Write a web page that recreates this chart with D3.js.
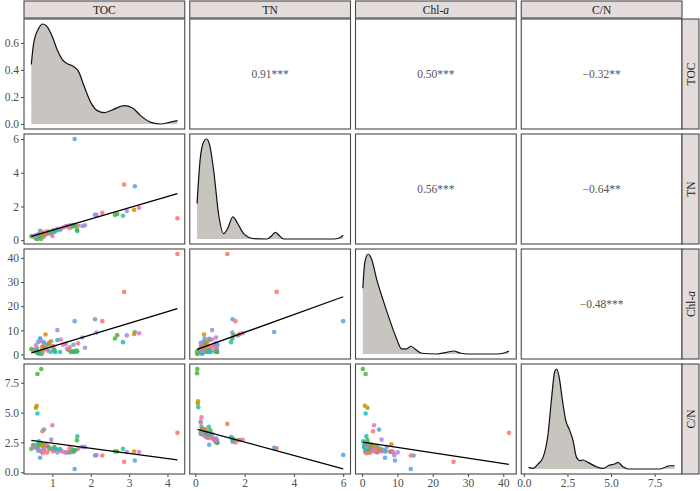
<!DOCTYPE html>
<html>
<head>
<meta charset="utf-8">
<script src="https://cdn.jsdelivr.net/npm/d3@7"></script>
<style>
  body { margin: 0; background: #fff; }
  text { font-family: "Liberation Serif", "DejaVu Serif", serif; }
</style>
</head>
<body>
<div id="chart"></div>
<script>
// variable names (strip labels)
const varNames = ['TOC', 'TN', 'Chl-a', 'C/N'];

// samples, one entry per site
const toc = [4.26, 1.58, 2.87, 3.15, 2.11, 2.15, 2.30, 2.63, 2.69, 2.84,
  2.94, 3.13, 3.26, 0.71, 0.61, 0.59, 0.57, 0.61, 1.00, 0.78,
  0.74, 0.97, 0.68, 1.65, 1.64, 1.67, 1.78, 1.28, 1.35, 1.42,
  1.48, 1.52, 1.60, 1.45, 1.38, 1.55, 1.57, 1.85, 1.13, 1.22,
  1.05, 1.20, 1.13, 0.45, 0.50, 0.55, 0.60, 0.62, 0.63, 0.65,
  0.66, 0.68, 0.70, 0.72, 0.73, 0.75, 0.77, 0.79, 0.80, 0.82,
  0.84, 0.86, 0.88, 0.90, 0.92, 0.95, 1.00, 1.02, 1.05, 1.08,
  0.57, 0.53, 0.74];
const tn = [1.30, 6.00, 3.30, 3.20, 1.51, 1.50, 1.63, 1.50, 1.55, 1.45,
  1.73, 1.80, 1.92, 0.08, 0.07, 0.11, 0.10, 0.12, 0.25, 0.22,
  0.22, 0.36, 0.56, 0.55, 0.61, 0.85, 0.84, 0.75, 0.82, 0.86,
  0.88, 0.80, 0.86, 0.72, 0.82, 0.90, 0.88, 0.88, 0.60, 0.68,
  0.56, 0.62, 0.68, 0.23, 0.22, 0.26, 0.26, 0.30, 0.35, 0.25,
  0.28, 0.38, 0.40, 0.30, 0.32, 0.47, 0.40, 0.42, 0.35, 0.35,
  0.38, 0.52, 0.40, 0.43, 0.48, 0.48, 0.52, 0.58, 0.50, 0.55,
  0.28, 0.25, 0.34];
const chl = [41.6, 13.8, 25.9, 9.3, 14.6, 9.1, 13.8, 6.6, 8.0, 5.1,
  7.9, 8.5, 8.8, 0.2, 1.0, 0.8, 1.5, 1.0, 3.4, 4.8,
  3.1, 5.5, 6.5, 1.2, 1.5, 4.6, 7.0, 4.0, 4.4, 1.9,
  1.0, 1.3, 1.5, 3.0, 2.4, 4.0, 1.0, 2.8, 6.0, 6.2,
  2.0, 1.0, 10.1, 2.2, 1.9, 1.8, 2.5, 0.6, 5.2, 0.3,
  0.8, 6.6, 5.6, 1.5, 0.6, 1.2, 5.0, 3.6, 2.6, 8.3,
  4.0, 2.3, 1.6, 4.2, 5.0, 1.1, 3.0, 3.5, 1.3, 1.0,
  3.8, 1.4, 3.2];
const cn = [3.30, 0.27, 0.87, 0.98, 1.40, 1.43, 1.40, 1.75, 1.74, 1.96,
  1.70, 1.74, 1.70, 8.65, 8.23, 5.56, 5.40, 4.92, 3.93, 3.57,
  3.43, 2.73, 1.21, 3.00, 2.67, 1.97, 2.12, 1.71, 1.65, 1.65,
  1.68, 1.90, 1.86, 2.01, 1.68, 1.72, 1.78, 2.10, 1.88, 1.79,
  1.88, 1.94, 1.66, 1.96, 2.27, 2.12, 2.31, 2.07, 1.80, 2.60,
  2.36, 1.79, 1.75, 2.40, 2.28, 1.60, 1.93, 1.88, 2.29, 2.35,
  2.21, 1.65, 2.20, 2.09, 1.92, 1.98, 1.92, 1.76, 2.10, 1.96,
  2.04, 2.12, 2.18];
// C/N as it appears in the TN vs C/N panel
const cnTn = [4.05, 1.45, 2.00, 2.05, 2.55, 2.75, 2.50, 2.85, 2.75, 2.95,
  2.70, 2.70, 2.72, 8.65, 8.30, 5.95, 5.75, 5.45, 4.60, 4.25,
  4.15, 3.60, 2.30, 3.80, 3.50, 2.70, 2.85, 2.75, 2.60, 2.55,
  2.50, 2.65, 2.60, 2.80, 2.55, 2.45, 2.50, 2.65, 3.00, 2.90,
  3.10, 3.00, 3.20, 3.20, 3.30, 3.20, 3.50, 3.40, 3.10, 3.80,
  3.60, 3.20, 3.00, 3.60, 3.40, 2.90, 3.20, 3.10, 3.50, 3.50,
  3.40, 2.90, 3.60, 3.40, 3.10, 3.20, 3.00, 2.90, 3.30, 3.20,
  3.50, 3.30, 3.60];
// site group (colour index)
const group = [0, 5, 0, 5, 5, 6, 0, 3, 3, 4,
  6, 1, 7, 3, 3, 1, 2, 4, 7, 5,
  0, 6, 5, 4, 3, 0, 6, 7, 6, 3,
  4, 3, 4, 0, 7, 5, 3, 6, 4, 7,
  3, 4, 6, 3, 3, 2, 4, 3, 5, 4,
  3, 5, 7, 3, 4, 0, 5, 7, 3, 1,
  6, 0, 7, 3, 1, 4, 6, 0, 3, 4,
  7, 6, 1];

// diagonal density curves
const tocDensX = [0.45, 0.51, 0.64, 0.75, 0.86, 1.0, 1.13, 1.26, 1.39, 1.54, 1.69, 1.82, 2.0, 2.17, 2.35, 2.56, 2.87, 3.09, 3.3, 3.57, 3.83, 4.05, 4.26];
const tocDensY = [0.44, 0.595, 0.706, 0.74, 0.72, 0.645, 0.545, 0.476, 0.446, 0.428, 0.384, 0.285, 0.16, 0.099, 0.084, 0.104, 0.136, 0.119, 0.062, 0.012, 0.0, 0.012, 0.025];
const tnDensX = [0.07, 0.2, 0.34, 0.45, 0.58, 0.75, 0.95, 1.15, 1.31, 1.52, 1.72, 1.96, 2.37, 2.91, 3.12, 3.25, 3.39, 3.59, 4.27, 5.62, 5.83, 6.0];
const tnDensY = [2.11, 4.78, 5.77, 5.93, 5.58, 3.99, 1.41, 0.32, 0.62, 1.31, 0.92, 0.32, 0.02, 0, 0.22, 0.40, 0.22, 0, 0, 0, 0.06, 0.22];
const chlDensX = [0.2, 0.77, 1.7, 2.67, 4.1, 6.0, 7.9, 9.8, 11.2, 12.6, 13.8, 15.0, 16.9, 21.2, 24.0, 25.9, 27.8, 29.7, 38.3, 40.2, 41.6];
const chlDensY = [27.2, 37.9, 41.4, 39.3, 31.1, 22.1, 13.8, 6.2, 2.1, 2.1, 3.2, 2.1, 0.3, 0, 0.7, 1.25, 0.4, 0, 0, 0.4, 1.25];
const cnDensX = [0.27, 0.53, 0.82, 1.1, 1.39, 1.58, 1.77, 1.87, 2.02, 2.21, 2.4, 2.63, 2.82, 3.02, 3.2, 3.39, 3.68, 4.16, 4.54, 4.92, 5.21, 5.4, 5.68, 5.97, 7.78, 8.17, 8.36, 8.64];
const cnDensY = [0.13, 0.05, 0.42, 0.97, 2.94, 5.75, 8.13, 8.34, 7.71, 5.75, 4.07, 3.22, 2.38, 0.97, 0.70, 0.75, 0.55, 0.19, 0.05, 0.33, 0.42, 0.55, 0.19, 0, 0, 0.19, 0.27, 0.27];

// fitted lines (ends), [x, y]
const fitTocTn = [[0.45, 0.22], [4.26, 2.76]];
const fitTocChl = [[0.45, 0.66], [4.26, 19.0]];
const fitTnChl = [[0.07, 2.07], [6.0, 23.9]];
const fitTocCn = [[0.45, 2.67], [4.26, 1.04]];
const fitTnCn = [[0.09, 3.60], [6.0, 0.28]];
const fitChlCn = [[0.2, 2.53], [41.6, 0.65]];

// upper-triangle correlations
const corrRow = [0, 0, 0, 1, 1, 2];
const corrCol = [1, 2, 3, 2, 3, 3];
const corrLabel = ['0.91***', '0.50***', '\u22120.32**', '0.56***', '\u22120.64**', '\u22120.48***'];

// tick values
const varTicks = [[1, 2, 3, 4], [0, 2, 4, 6], [0, 10, 20, 30, 40], [0, 2.5, 5, 7.5]];
const densTicks = [0, 0.2, 0.4, 0.6];

// layout
const width = 700, height = 491;
const margin = { top: 19, bottom: 474, left: 24, right: 682 };
const gap = 5, stripSize = 17;
const pw = (margin.right - margin.left - 3 * gap) / 4, ph = (margin.bottom - margin.top - 3 * gap) / 4;
const px = i => margin.left + i * (pw + gap);
const py = i => margin.top + i * (ph + gap);
const colors = ['#F8766D', '#DB8E00', '#A3A500', '#4FB23A', '#27BDB6', '#5BA3E0', '#A58AD9', '#EE6FC0'];
const fmts = [d3.format('d'), d3.format('d'), d3.format('d'), d3.format('.1f')];

const svg = d3.select('#chart').append('svg').attr('width', width).attr('height', height);

const vals = [toc, tn, chl, cn];
const padDomain = v => {
  const [a, b] = d3.extent(v);
  const p = (b - a) * 0.05;
  return [a - p, b + p];
};
const xs = vals.map((v, i) => d3.scaleLinear().domain(padDomain(v)).range([px(i), px(i) + pw]));
const ys = vals.map((v, i) => d3.scaleLinear().domain(padDomain(v)).range([py(i) + ph, py(i)]));

const dens = [[tocDensX, tocDensY], [tnDensX, tnDensY], [chlDensX, chlDensY], [cnDensX, cnDensY]];
const densY = dens.map((d, i) => {
  const m = d3.max(d[1]);
  return d3.scaleLinear().domain([-0.05 * m, 1.05 * m]).range([py(i) + ph, py(i)]);
});

const fits = { '1-0': fitTocTn, '2-0': fitTocChl, '2-1': fitTnChl, '3-0': fitTocCn, '3-1': fitTnCn, '3-2': fitChlCn };

// panels
for (let r = 0; r < 4; r++) {
  for (let c = 0; c < 4; c++) {
    const g = svg.append('g');
    if (r === c) {
      const [dx, dy] = dens[c];
      const pts = dx.map((x, k) => [x, dy[k]]);
      const area = d3.area().x(d => xs[c](d[0])).y0(densY[c](0)).y1(d => densY[c](d[1])).curve(d3.curveMonotoneX);
      const line = d3.line().x(d => xs[c](d[0])).y(d => densY[c](d[1])).curve(d3.curveMonotoneX);
      g.append('path').attr('d', area(pts)).attr('fill', '#C8C4C0');
      g.append('path').attr('d', line(pts)).attr('fill', 'none').attr('stroke', '#111').attr('stroke-width', 1.2);
    } else if (r > c) {
      const yv = (r === 3 && c === 1) ? cnTn : vals[r];
      g.selectAll('circle').data(d3.range(toc.length)).join('circle')
        .attr('cx', k => xs[c](vals[c][k]))
        .attr('cy', k => ys[r](yv[k]))
        .attr('r', 2.3)
        .attr('fill', k => colors[group[k]])
        .attr('fill-opacity', 0.85);
      const f = fits[r + '-' + c];
      g.append('path')
        .attr('d', d3.line().x(d => xs[c](d[0])).y(d => ys[r](d[1]))(f))
        .attr('stroke', '#000').attr('stroke-width', 1.3).attr('fill', 'none');
    }
    g.append('rect')
      .attr('x', px(c)).attr('y', py(r)).attr('width', pw).attr('height', ph)
      .attr('fill', 'none').attr('stroke', '#4a4a4a').attr('stroke-width', 1.1);
  }
}

// correlation text
corrLabel.forEach((t, k) => {
  svg.append('text')
    .attr('x', px(corrCol[k]) + pw / 2)
    .attr('y', py(corrRow[k]) + ph / 2 + 4)
    .attr('text-anchor', 'middle')
    .attr('font-size', 11.5)
    .attr('fill', '#555')
    .text(t);
});

// strips
const stripLabel = (sel, name) => {
  if (name === 'Chl-a') {
    sel.append('tspan').text('Chl-');
    sel.append('tspan').attr('font-style', 'italic').text('a');
  } else sel.text(name);
};
varNames.forEach((name, i) => {
  svg.append('rect').attr('x', px(i)).attr('y', 1).attr('width', pw).attr('height', stripSize)
    .attr('fill', '#E3DCDB').attr('stroke', '#4a4a4a').attr('stroke-width', 1.1);
  svg.append('text').attr('x', px(i) + pw / 2).attr('y', 1 + stripSize / 2 + 4)
    .attr('text-anchor', 'middle').attr('font-size', 11.5).attr('fill', '#1a1a1a')
    .call(stripLabel, name);
  svg.append('rect').attr('x', margin.right).attr('y', py(i)).attr('width', stripSize).attr('height', ph)
    .attr('fill', '#E3DCDB').attr('stroke', '#4a4a4a').attr('stroke-width', 1.1);
  const cx = margin.right + stripSize / 2 + 4, cy = py(i) + ph / 2;
  svg.append('text').attr('transform', `translate(${cx},${cy}) rotate(-90)`)
    .attr('text-anchor', 'middle').attr('font-size', 11.5).attr('fill', '#1a1a1a')
    .call(stripLabel, name);
});

// axes
const styleAxis = g => {
  g.select('.domain').remove();
  g.selectAll('line').attr('stroke', '#4a4a4a');
  g.selectAll('text').attr('fill', '#4d4d4d').attr('font-size', 11.5)
    .attr('font-family', '"Liberation Serif", serif');
  g.attr('font-family', null);
};
for (let r = 0; r < 4; r++) {
  const scale = r === 0 ? densY[0] : ys[r];
  const ticks = r === 0 ? densTicks : varTicks[r];
  const fmt = r === 0 ? d3.format('.1f') : fmts[r];
  svg.append('g').attr('transform', `translate(${margin.left},0)`)
    .call(d3.axisLeft(scale).tickValues(ticks).tickFormat(fmt).tickSize(3).tickPadding(2))
    .call(styleAxis);
}
for (let c = 0; c < 4; c++) {
  svg.append('g').attr('transform', `translate(0,${margin.bottom})`)
    .call(d3.axisBottom(xs[c]).tickValues(varTicks[c]).tickFormat(fmts[c]).tickSize(3).tickPadding(2))
    .call(styleAxis);
}
</script>
</body>
</html>
